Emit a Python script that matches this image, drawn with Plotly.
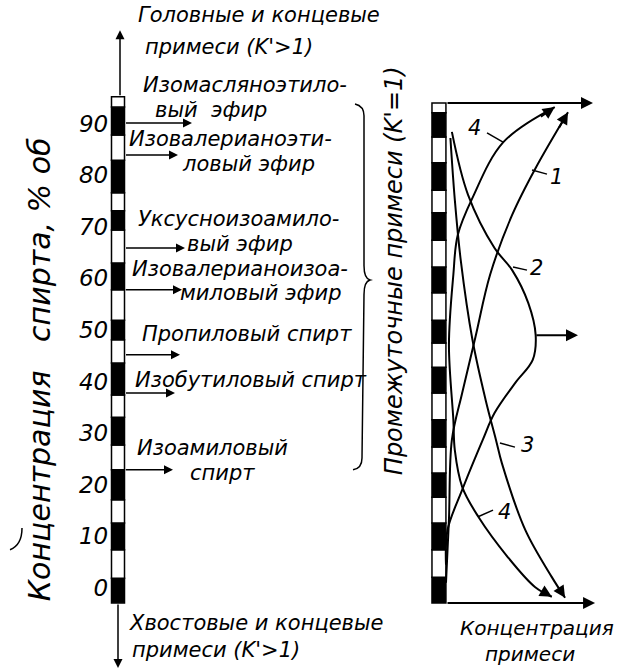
import plotly.graph_objects as go

# шкала концентрации спирта, % об.
tick_vals = [0, 10, 20, 30, 40, 50, 60, 70, 80, 90]

# границы чёрно-белых полос колонны (снизу вверх), % об.
left_stripes = [-2.9, 1.9, 7.4, 12.6, 17.1, 22.9, 27.7, 33.1, 37.4, 43.6, 48.1,
                51.9, 57.8, 63.0, 69.4, 73.1, 76.6, 82.9, 87.8, 93.2, 95.2]
right_stripes = [-2.9, 2.1, 7.4, 12.6, 17.6, 22.3, 27.3, 32.6, 37.8, 42.8, 47.5,
                 51.9, 57.2, 62.2, 67.4, 72.7, 77.1, 82.4, 87.4, 92.1, 94.0]

# промежуточные примеси и концентрация спирта, где они отбираются
components = ['Изомасляноэтиловый эфир', 'Изовалерианоэтиловый эфир',
              'Уксусноизоамиловый эфир', 'Изовалерианоизоамиловый эфир',
              'Пропиловый спирт', 'Изобутиловый спирт', 'Изоамиловый спирт']
component_conc = [90.1, 83.9, 65.9, 57.8, 45.2, 37.8, 22.9]
arrow_end = [192, 178, 185, 182, 180, 175, 173]

# кривые распределения примесей по высоте колонны
curve1_x = [0.00, 0.02, 0.04, 0.11, 0.20, 0.30, 0.45, 0.61, 0.83]
curve1_y = [1.0, 13.2, 28.7, 37.8, 48.6, 60.7, 72.3, 81.4, 92.2]
curve2_x = [0.04, 0.15, 0.33, 0.45, 0.56, 0.61, 0.59, 0.47, 0.33, 0.25, 0.11, 0.01, 0.00]
curve2_y = [88.4, 76.2, 65.9, 61.6, 55.2, 49.0, 44.2, 39.7, 33.9, 28.7, 19.0, 11.2, 4.5]
curve3_x = [0.03, 0.06, 0.10, 0.18, 0.27, 0.34, 0.38, 0.54, 0.72, 0.81]
curve3_y = [87.2, 75.2, 63.6, 48.1, 36.4, 28.7, 24.2, 11.2, 2.1, -1.9]
curve4_x = [0.74, 0.39, 0.18, 0.08, 0.05, 0.02, 0.05, 0.06, 0.11, 0.22, 0.42, 0.605, 0.72]
curve4_y = [93.2, 86.4, 75.6, 68.4, 60.7, 47.1, 32.6, 26.7, 19.6, 13.8, 6.0, 0.2, -1.7]

FONT = 'DejaVu Sans'
ink = 'black'


def txt(size):
    return dict(family=FONT, size=size, color=ink, style='italic')


def stripes(bounds, xaxis, xpos, width):
    lengths = [b - a for a, b in zip(bounds[:-1], bounds[1:])]
    colors = [ink if i % 2 == 0 else 'white' for i in range(len(lengths))]
    return go.Bar(x=[xpos] * len(lengths), y=lengths, base=bounds[:-1], width=width,
                  marker=dict(color=colors, line=dict(color=ink, width=1.5)),
                  xaxis=xaxis, yaxis='y', showlegend=False, hoverinfo='skip')


fig = go.Figure()
fig.add_trace(stripes(left_stripes, 'x', 118, 13))
fig.add_trace(stripes(right_stripes, 'x2', -0.048, 0.095))

for cx, cy in [(curve1_x, curve1_y), (curve2_x, curve2_y),
               (curve3_x, curve3_y), (curve4_x, curve4_y)]:
    fig.add_trace(go.Scatter(x=cx, y=cy, mode='lines', xaxis='x2', yaxis='y',
                             line=dict(color=ink, width=2, shape='spline', smoothing=1),
                             showlegend=False, hoverinfo='skip'))

anns = []


def arrow(x, y, ax, ay, xref='x', width=1.5):
    anns.append(dict(x=x, y=y, ax=ax, ay=ay, xref=xref, yref='y', axref=xref, ayref='y',
                     text='', showarrow=True, arrowhead=2, arrowsize=1.2,
                     arrowwidth=width, arrowcolor=ink))


# ось колонны: вверх — головные, вниз — хвостовые
arrow(120, 108.1, 120, 95.2)
arrow(118, -15.5, 118, -2.9)

# отборы промежуточных примесей
for conc, xe in zip(component_conc, arrow_end):
    arrow(xe, conc, 124.5, conc)

# оси правой схемы
arrow(1.0, 94.0, 0.0, 94.0, 'x2', 2)
arrow(1.014, -2.9, 0.0, -2.9, 'x2', 2)
arrow(0.898, 49.0, 0.605, 49.0, 'x2', 2)

# стрелки на концах кривых
for cx, cy in [(curve1_x, curve1_y), (curve3_x, curve3_y)]:
    arrow(cx[-1], cy[-1], cx[-1] - 0.3 * (cx[-1] - cx[-2]), cy[-1] - 0.3 * (cy[-1] - cy[-2]), 'x2', 2)
arrow(curve4_x[0], curve4_y[0], curve4_x[0] - 0.3 * (curve4_x[0] - curve4_x[1]),
      curve4_y[0] - 0.3 * (curve4_y[0] - curve4_y[1]), 'x2', 2)
arrow(curve4_x[-1], curve4_y[-1], curve4_x[-1] - 0.5 * (curve4_x[-1] - curve4_x[-2]),
      curve4_y[-1] - 0.5 * (curve4_y[-1] - curve4_y[-2]), 'x2', 2)

# подписи к колонне
label_lines = [
    ('Головные и концевые', 136, 111.0), ('примеси (K\'>1)', 143, 104.8),
    ('Изомасляноэтило-', 141, 97.5), ('вый  эфир', 153, 92.6),
    ('Изовалерианоэти-', 127, 87.0), ('ловый эфир', 180, 82.2),
    ('Уксусноизоамило-', 136, 71.5), ('вый эфир', 185, 66.7),
    ('Изовалерианоизоа-', 130, 61.8), ('миловый эфир', 178, 57.2),
    ('Пропиловый спирт', 140, 49.2),
    ('Изобутиловый спирт', 133, 40.3),
    ('Изоамиловый', 135, 27.1), ('спирт', 188, 22.3),
    ('Хвостовые и концевые', 127, -6.8), ('примеси (K\'>1)', 130, -12.0),
]
for t, x, y in label_lines:
    anns.append(dict(x=x, y=y, xref='x', yref='y', text=t, showarrow=False,
                     xanchor='left', yanchor='middle', font=txt(21)))

anns.append(dict(x=39, y=42.4, xref='x', yref='y', text='Концентрация   спирта, % об',
                 textangle=-90, showarrow=False, font=txt(30)))
anns.append(dict(x=394, y=61.4, xref='x', yref='y', text='Промежуточные примеси (K\'=1)',
                 textangle=-90, showarrow=False, font=txt(24)))
anns.append(dict(x=0.619, y=-7.8, xref='x2', yref='y', text='Концентрация',
                 showarrow=False, font=txt(20)))
anns.append(dict(x=0.571, y=-12.8, xref='x2', yref='y', text='примеси',
                 showarrow=False, font=txt(20)))

# номера кривых с выносками
curve_labels = [('4', 0.197, 89.1, 0.279, 88.2, 0.388, 86.4),
                ('1', 0.755, 79.7, 0.585, 81.0, 0.687, 80.2),
                ('2', 0.619, 62.0, 0.456, 62.2, 0.551, 61.6),
                ('3', 0.551, 27.7, 0.367, 28.1, 0.469, 27.3),
                ('4', 0.401, 14.7, 0.218, 13.8, 0.320, 15.1)]
shapes = []
for t, lx, ly, x0, y0, x1, y1 in curve_labels:
    anns.append(dict(x=lx, y=ly, xref='x2', yref='y', text=t, showarrow=False, font=txt(21)))
    shapes.append(dict(type='line', xref='x2', yref='y', x0=x0, y0=y0, x1=x1, y1=y1,
                       line=dict(color=ink, width=1.5)))

# фигурная скобка промежуточных примесей
shapes.append(dict(type='path', xref='x', yref='y',
                   path='M 355,93.8 Q 364,93.4 364,91.5 L 364,62.5 Q 364,60.0 370,59.7 '
                        'Q 364,59.4 364,56.9 L 362,25.2 Q 362,23.2 353,22.9',
                   line=dict(color=ink, width=1.5)))
# мелкая помарка слева, как на оригинале
shapes.append(dict(type='path', xref='x', yref='y', path='M 22,11.6 Q 22,8.3 10,7.4',
                   line=dict(color=ink, width=1.5)))

fig.update_layout(
    width=622, height=671, margin=dict(l=0, r=0, t=0, b=0),
    paper_bgcolor='white', plot_bgcolor='white', barmode='overlay',
    xaxis=dict(domain=[0, 0.66], range=[0, 410.52], visible=False),
    xaxis2=dict(domain=[0.66, 1], range=[-0.2414, 1.1973], visible=False),
    yaxis=dict(range=[-16.09, 113.95], tickvals=tick_vals, anchor='free', position=0.174,
               showgrid=False, zeroline=False, showline=False, ticks='',
               tickfont=txt(23), automargin=False),
    annotations=anns, shapes=shapes,
)

fig.write_html('out.html', config={'displayModeBar': False},
               post_script="document.body.style.margin='0';")
